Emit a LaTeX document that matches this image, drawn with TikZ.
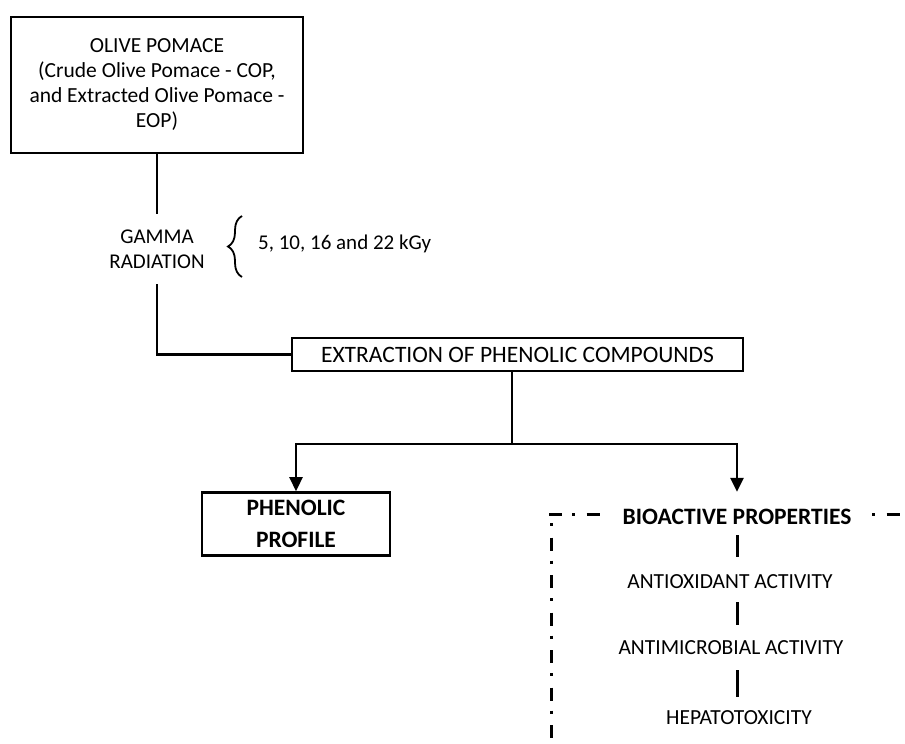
\documentclass[tikz,border=0pt]{standalone}
\usepackage{fontspec}
\setmainfont{Carlito}
\usetikzlibrary{arrows.meta,decorations.pathreplacing,calc}
\begin{document}
\begin{tikzpicture}[x=1pt,y=-1pt,
 box/.style={draw,line width=2.6pt,align=center,inner sep=0pt},
 conn/.style={line width=2.6pt},
 arr/.style={line width=2.6pt,-{Triangle[width=13pt,length=14pt]}},
 seg/.style={line width=3pt},
 dashdot/.style={line width=3pt,dash pattern=on 13pt off 10pt on 3pt off 11.5pt},
 lbl/.style={align=center,inner sep=0pt},
 reg/.style={font=\fontsize{21.5}{25}\selectfont},
 bld/.style={font=\bfseries\fontsize{23.5}{32}\selectfont}]
\useasboundingbox (0,0) rectangle (905,744);
\node[box,reg,minimum width=292,minimum height=136] (olive) at (157,85)
  {OLIVE POMACE\\(Crude Olive Pomace - COP,\\and Extracted Olive Pomace -\\EOP)};
\node[lbl,minimum height=70,font=\fontsize{21}{25}\selectfont] (gamma) at (157,249) {GAMMA\\RADIATION};
\node[lbl,anchor=west,font=\fontsize{21}{25}\selectfont] (dose) at (258,244) {5, 10, 16 and 22 kGy};
\draw[line width=1.8pt,decorate,decoration={brace,amplitude=14pt}] (242,277) -- (242,216);
\node[box,minimum width=451,minimum height=33,font=\fontsize{23.5}{27}\selectfont] (ext) at (517.5,354.5)
  {EXTRACTION OF PHENOLIC COMPOUNDS};
\draw[conn] (olive.south) -- (gamma.north);
\draw[conn] (gamma.south) |- (ext.west);
\coordinate (jn) at (512,444);
\draw[conn] (ext.south -| jn) -- (jn);
\node[box,bld,minimum width=188,minimum height=63] (prof) at (296,524) {PHENOLIC\\PROFILE};
\draw[dashdot] (549,514) -- (905,514);
\draw[dashdot,dash phase=14pt] (551,514) -- (551,744);
\node[lbl,fill=white,inner xsep=16pt,minimum height=50,font=\bfseries\fontsize{23.5}{28}\selectfont] (bio) at (737,517)
  {BIOACTIVE PROPERTIES};
\draw[arr] (jn) -| (prof.north);
\draw[arr] (jn) -| (bio.north);
\node[lbl,reg] (aox) at (730,582) {ANTIOXIDANT ACTIVITY};
\node[lbl,reg] (amic) at (731,648) {ANTIMICROBIAL ACTIVITY};
\node[lbl,reg] (hep) at (739,718) {HEPATOTOXICITY};
\draw[seg] ([yshift=-18pt]bio.center) -- ([xshift=7pt,yshift=25pt]aox.center);
\draw[seg] ([xshift=7pt,yshift=-20pt]aox.center) -- ([xshift=6pt,yshift=23pt]amic.center);
\draw[seg] ([xshift=6pt,yshift=-22pt]amic.center) -- ([xshift=-2pt,yshift=21pt]hep.center);
\end{tikzpicture}
\end{document}
